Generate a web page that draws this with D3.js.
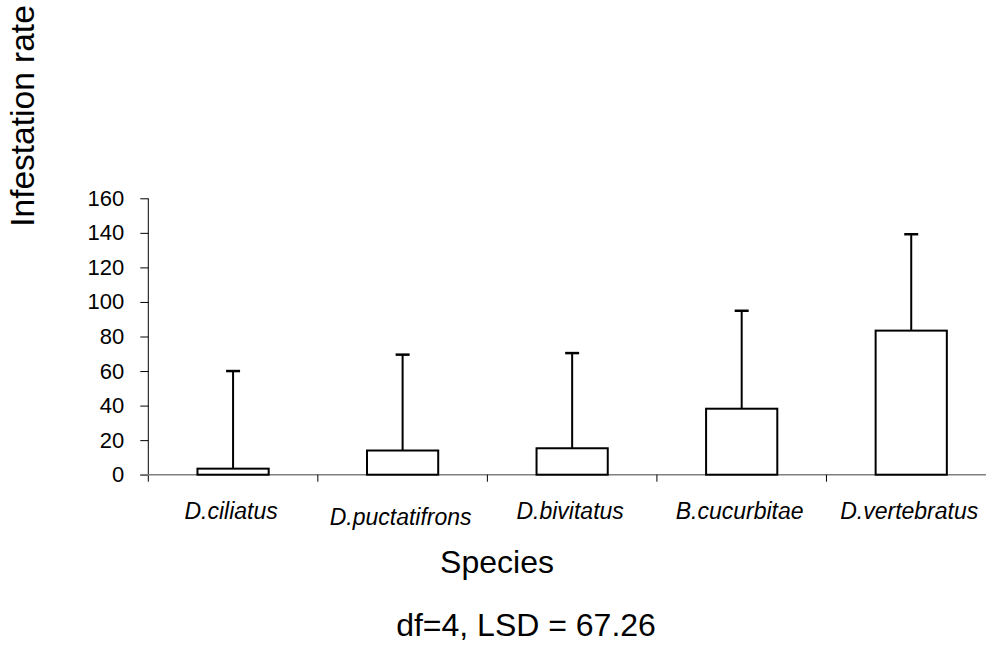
<!DOCTYPE html>
<html>
<head>
<meta charset="utf-8">
<script src="https://cdn.jsdelivr.net/npm/d3@7"></script>
<style>
  body { margin: 0; background: #fff; }
  text { font-family: "Liberation Sans", Arial, sans-serif; fill: #000; }
</style>
</head>
<body>
<div id="chart-area"></div>
<script>
// Data
let species = ["D.ciliatus", "D.puctatifrons", "D.bivitatus", "B.cucurbitae", "D.vertebratus"];
let meanRate = [3.5, 14, 15.3, 38.2, 83.4];
let errUp = [56.5, 55.5, 55.1, 56.7, 55.8];
let yTicks = [0, 20, 40, 60, 80, 100, 120, 140, 160];

let data = species.map((s, i) => ({name: s, mean: meanRate[i], err: errUp[i]}));

let W = 986, H = 650;
let plot = {left: 148.3, top: 198.3, bottom: 474.7, right: 996};

let svg = d3.select("#chart-area").append("svg")
    .attr("width", W)
    .attr("height", H);

// Scales
let x = d3.scaleBand()
    .domain(species)
    .range([plot.left, plot.right])
    .paddingInner(0);

let y = d3.scaleLinear()
    .domain([0, 160])
    .range([plot.bottom, plot.top]);

let barW = x.bandwidth() * 0.42;

// Y axis
let yAxis = d3.axisLeft(y)
    .tickValues(yTicks)
    .tickSize(8)
    .tickPadding(16);

let yg = svg.append("g")
    .attr("transform", "translate(" + plot.left + ",0)")
    .call(yAxis);
yg.select(".domain").attr("stroke", "#000").attr("d", "M0," + plot.top + "V" + (plot.bottom + 7));
yg.selectAll(".tick line").attr("stroke", "#000");
yg.selectAll(".tick text")
    .style("font-size", "22px")
    .attr("fill", "#000");

// X axis line (grey) + band boundary ticks
svg.append("line")
    .attr("x1", plot.left - 8).attr("x2", W)
    .attr("y1", plot.bottom).attr("y2", plot.bottom)
    .attr("stroke", "#808080")
    .attr("stroke-width", 1.5);

svg.selectAll(".xtick")
    .data(species.slice(1))
    .enter().append("line")
    .attr("class", "xtick")
    .attr("x1", d => x(d)).attr("x2", d => x(d))
    .attr("y1", plot.bottom).attr("y2", plot.bottom + 7)
    .attr("stroke", "#000");

// Bars
svg.selectAll(".bar")
    .data(data)
    .enter().append("rect")
    .attr("class", "bar")
    .attr("x", d => x(d.name) + x.bandwidth() / 2 - barW / 2)
    .attr("y", d => y(d.mean))
    .attr("width", barW)
    .attr("height", d => y(0) - y(d.mean))
    .attr("fill", "#fff")
    .attr("stroke", "#000")
    .attr("stroke-width", 2);

// Error bars (upper only)
let eb = svg.selectAll(".err")
    .data(data)
    .enter().append("g")
    .attr("class", "err")
    .attr("transform", d => "translate(" + (x(d.name) + x.bandwidth() / 2) + ",0)");

eb.append("line")
    .attr("y1", d => y(d.mean)).attr("y2", d => y(d.mean + d.err))
    .attr("stroke", "#000").attr("stroke-width", 2);

eb.append("line")
    .attr("x1", -7).attr("x2", 7)
    .attr("y1", d => y(d.mean + d.err)).attr("y2", d => y(d.mean + d.err))
    .attr("stroke", "#000").attr("stroke-width", 2.5);

// Category labels (second one sits a bit lower in the original)
svg.selectAll(".cat")
    .data(species)
    .enter().append("text")
    .attr("class", "cat")
    .attr("x", d => x(d) + x.bandwidth() / 2 - 2)
    .attr("y", (d, i) => i == 1 ? 524.5 : 519)
    .attr("text-anchor", "middle")
    .style("font-size", "23px")
    .style("font-style", "italic")
    .text(d => d);

// Titles
svg.append("text")
    .attr("x", 497).attr("y", 573)
    .attr("text-anchor", "middle")
    .style("font-size", "32px")
    .text("Species");

svg.append("text")
    .attr("x", 526).attr("y", 636)
    .attr("text-anchor", "middle")
    .style("font-size", "32px")
    .text("df=4, LSD = 67.26");

svg.append("text")
    .attr("transform", "translate(34,116)rotate(-90)")
    .attr("text-anchor", "middle")
    .style("font-size", "33.5px")
    .text("Infestation rate");
</script>
</body>
</html>
